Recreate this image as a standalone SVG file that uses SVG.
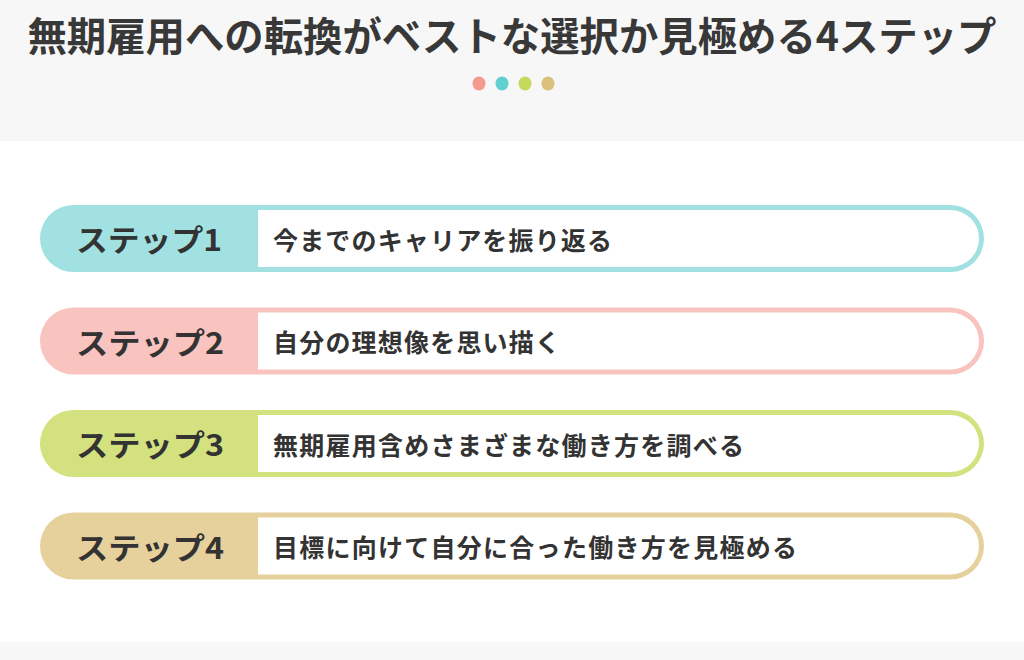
<svg xmlns="http://www.w3.org/2000/svg" width="1024" height="660" viewBox="0 0 1024 660">
<style>
.title{font-family:"Noto Sans CJK JP","Noto Sans",sans-serif;font-weight:700;font-size:40px;fill:#383838}
.lbl{font-family:"Noto Sans CJK JP","Noto Sans",sans-serif;font-weight:700;font-size:30px;fill:#333}
.desc{font-family:"Noto Sans CJK JP","Noto Sans",sans-serif;font-weight:700;font-size:25px;fill:#333}
.inner{fill:#fff}
</style>
<rect x="0" y="0" width="1024" height="660" fill="#ffffff"/>
<rect x="0" y="0" width="1024" height="141" fill="#f7f7f7"/>
<rect x="0" y="642" width="1024" height="18" fill="#f7f7f7"/>
<text class="title" x="512" y="51" text-anchor="middle" textLength="969" lengthAdjust="spacingAndGlyphs">無期雇用への転換がベストな選択か見極める4ステップ</text>
<g id="dots">
<ellipse cx="479" cy="83.5" rx="6.5" ry="7" fill="#f59a8f"/>
<ellipse cx="502" cy="83.5" rx="6.5" ry="7" fill="#5fcfd0"/>
<ellipse cx="525" cy="83.5" rx="6.5" ry="7" fill="#c6d95c"/>
<ellipse cx="548" cy="83.5" rx="6.5" ry="7" fill="#d9c17c"/>
</g>
<g id="step1" transform="translate(0,205)">
<rect x="40" y="0" width="944" height="67" rx="33.5" fill="#a2e1e1"/>
<path class="inner" d="M258,5 H950.5 A28.5,28.5 0 0 1 950.5,62 H258 Z"/>
<text class="lbl" x="76" y="46" textLength="146" lengthAdjust="spacingAndGlyphs">ステップ1</text>
<text class="desc" x="273" y="44.5" textLength="339" lengthAdjust="spacing">今までのキャリアを振り返る</text>
</g>
<g id="step2" transform="translate(0,307.5)">
<rect x="40" y="0" width="944" height="67" rx="33.5" fill="#f9c3bf"/>
<path class="inner" d="M258,5 H950.5 A28.5,28.5 0 0 1 950.5,62 H258 Z"/>
<text class="lbl" x="76" y="46" textLength="148" lengthAdjust="spacingAndGlyphs">ステップ2</text>
<text class="desc" x="273" y="44.5" textLength="287" lengthAdjust="spacing">自分の理想像を思い描く</text>
</g>
<g id="step3" transform="translate(0,410)">
<rect x="40" y="0" width="944" height="67" rx="33.5" fill="#d4e17f"/>
<path class="inner" d="M258,5 H950.5 A28.5,28.5 0 0 1 950.5,62 H258 Z"/>
<text class="lbl" x="76" y="46" textLength="148" lengthAdjust="spacingAndGlyphs">ステップ3</text>
<text class="desc" x="273" y="44.5" textLength="471" lengthAdjust="spacing">無期雇用含めさまざまな働き方を調べる</text>
</g>
<g id="step4" transform="translate(0,512.5)">
<rect x="40" y="0" width="944" height="67" rx="33.5" fill="#e6d19c"/>
<path class="inner" d="M258,5 H950.5 A28.5,28.5 0 0 1 950.5,62 H258 Z"/>
<text class="lbl" x="76" y="46" textLength="148" lengthAdjust="spacingAndGlyphs">ステップ4</text>
<text class="desc" x="273" y="44.5" textLength="524" lengthAdjust="spacing">目標に向けて自分に合った働き方を見極める</text>
</g>
</svg>
